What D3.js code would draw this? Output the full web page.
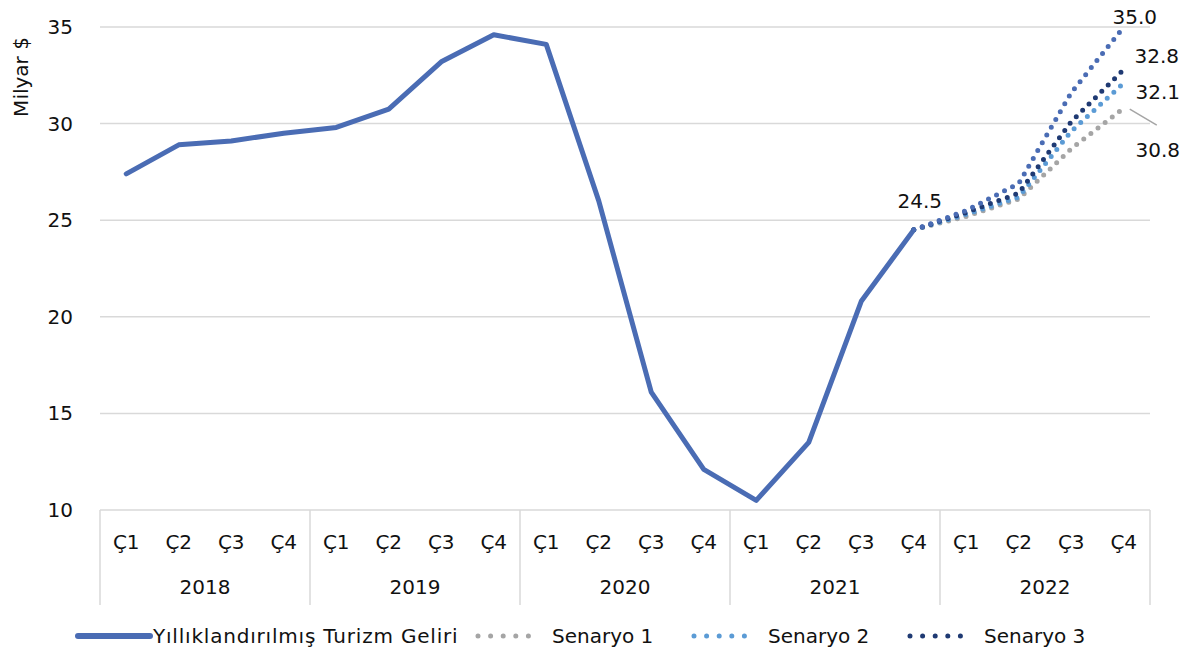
<!DOCTYPE html>
<html>
<head>
<meta charset="utf-8">
<script src="https://cdn.jsdelivr.net/npm/d3@7"></script>
<style>
  body { margin: 0; background: #fff; }
  text { font-family: "DejaVu Sans", sans-serif; fill: #111; }
</style>
</head>
<body>
<svg id="chart"></svg>
<script>
// data
const years = ['2018', '2019', '2020', '2021', '2022'];
const quarters = ['Ç1', 'Ç2', 'Ç3', 'Ç4'];
const revenue = [27.4, 28.9, 29.1, 29.5, 29.8, 30.75, 33.2, 34.6, 34.1, 26.0, 16.1, 12.1, 10.5, 13.5, 20.8, 24.5];
// scenarios run from 2021 Ç4 to 2022 Ç4
const scenario1 = [24.5, 25.2, 26.1, 28.7, 30.8];
const scenario2 = [24.5, 25.3, 26.2, 29.6, 32.1];
const scenario3 = [24.5, 25.4, 26.4, 30.1, 32.8];
const scenarioTop = [24.5, 25.5, 26.9, 31.6, 35.0];
const yTicks = [10, 15, 20, 25, 30, 35];

const config = {
  width: 1180, height: 650,
  margin: {top: 27, right: 30, bottom: 140, left: 100},
  fontSize: '20px'
};
const colors = {
  main: '#4a6cb4', s1: '#a5a5a5', s2: '#5b9bd5', s3: '#1f3a73', grid: '#d9d9d9'
};

const svg = d3.select('#chart')
    .attr('width', config.width)
    .attr('height', config.height);

const innerW = config.width - config.margin.left - config.margin.right;
const innerH = config.height - config.margin.top - config.margin.bottom;

const chart = svg.append('g')
    .attr('transform', `translate(${config.margin.left},${config.margin.top})`);

// one band per quarter
const keys = [];
years.forEach(y => quarters.forEach(q => keys.push(y + '-' + q)));

const xScale = d3.scaleBand().domain(keys).range([0, innerW]);
const yScale = d3.scaleLinear().domain([10, 35]).range([innerH, 0]);
const xc = k => xScale(k) + xScale.bandwidth() / 2;

// gridlines
chart.selectAll('.grid')
    .data(yTicks.filter(d => d > 10))
  .join('line')
    .attr('x1', 0).attr('x2', innerW)
    .attr('y1', d => yScale(d)).attr('y2', d => yScale(d))
    .attr('stroke', colors.grid).attr('stroke-width', 1.5);

// y labels
const yAxis = d3.axisLeft(yScale).tickValues(yTicks).tickSize(0).tickPadding(27);
const yAxisG = chart.append('g').call(yAxis);
yAxisG.select('.domain').remove();
yAxisG.selectAll('text').style('font-size', config.fontSize).attr('fill', '#111')
    .style('font-family', '"DejaVu Sans", sans-serif');

svg.append('text')
    .attr('transform', `translate(28,77) rotate(-90)`)
    .attr('text-anchor', 'middle')
    .style('font-size', config.fontSize)
    .text('Milyar $');

// x axis: quarter labels + year groups
const xAxisG = chart.append('g').attr('transform', `translate(0,${innerH})`);
xAxisG.append('line')
    .attr('x1', 0).attr('x2', innerW).attr('y1', 0).attr('y2', 0)
    .attr('stroke', colors.grid).attr('stroke-width', 1.5);
xAxisG.selectAll('.q')
    .data(keys)
  .join('text')
    .attr('x', d => xc(d))
    .attr('y', 39)
    .attr('text-anchor', 'middle')
    .style('font-size', config.fontSize)
    .text(d => d.split('-')[1]);
const yearW = xScale.bandwidth() * 4;
xAxisG.selectAll('.sep')
    .data(d3.range(years.length + 1))
  .join('line')
    .attr('x1', d => d * yearW).attr('x2', d => d * yearW)
    .attr('y1', 0).attr('y2', 95)
    .attr('stroke', colors.grid).attr('stroke-width', 1.5);
xAxisG.selectAll('.yr')
    .data(years)
  .join('text')
    .attr('x', (d, i) => i * yearW + yearW / 2)
    .attr('y', 84)
    .attr('text-anchor', 'middle')
    .style('font-size', config.fontSize)
    .text(d => d);

// lines
const line = d3.line().x(d => xc(d.k)).y(d => yScale(d.v));
const mainData = revenue.map((v, i) => ({k: keys[i], v}));
const scenKeys = keys.slice(15);
const toPts = arr => arr.map((v, i) => ({k: scenKeys[i], v}));

chart.append('path')
    .datum(mainData)
    .attr('d', line)
    .attr('fill', 'none')
    .attr('stroke', colors.main)
    .attr('stroke-width', 5)
    .attr('stroke-linejoin', 'round')
    .attr('stroke-linecap', 'round');

const scenarios = [
  {data: scenario1, color: colors.s1},
  {data: scenario2, color: colors.s2},
  {data: scenario3, color: colors.s3},
  {data: scenarioTop, color: colors.main}
];
chart.selectAll('.scen')
    .data(scenarios)
  .join('path')
    .attr('d', d => line(toPts(d.data)))
    .attr('fill', 'none')
    .attr('stroke', d => d.color)
    .attr('stroke-width', 5)
    .attr('stroke-linecap', 'round')
    .attr('stroke-dasharray', '0 9');

// value labels
const lastK = keys[keys.length - 1];
const ex = xc(lastK);
const labels = [
  {t: '24.5', x: xc(keys[15]) + 6, y: yScale(24.5) - 22},
  {t: '35.0', x: ex + 11, y: yScale(35.0) - 3},
  {t: '32.8', x: ex + 33, y: yScale(32.8) - 7},
  {t: '32.1', x: ex + 34, y: yScale(32.1) + 16},
  {t: '30.8', x: ex + 34, y: yScale(30.8) + 49}
];
chart.selectAll('.lbl')
    .data(labels)
  .join('text')
    .attr('x', d => d.x).attr('y', d => d.y)
    .attr('text-anchor', 'middle')
    .style('font-size', config.fontSize)
    .text(d => d.t);
chart.append('line')
    .attr('x1', ex + 6).attr('y1', yScale(30.8) + 1)
    .attr('x2', ex + 33).attr('y2', yScale(30.8) + 17)
    .attr('stroke', colors.s1).attr('stroke-width', 1.5);

// legend
const legend = svg.append('g').attr('transform', 'translate(0,636)');
const legendItems = [
  {label: 'Yıllıklandırılmış Turizm Geliri', color: colors.main, x: 78, solid: true, ls: 0.8},
  {label: 'Senaryo 1', color: colors.s1, x: 478, ls: 0},
  {label: 'Senaryo 2', color: colors.s2, x: 694, ls: 0},
  {label: 'Senaryo 3', color: colors.s3, x: 910, ls: 0}
];
legendItems.forEach(d => {
  legend.append('line')
      .attr('x1', d.x).attr('x2', d.solid ? d.x + 72 : d.x + 63)
      .attr('y1', 0).attr('y2', 0)
      .attr('stroke', d.color)
      .attr('stroke-width', d.solid ? 6 : 5)
      .attr('stroke-linecap', 'round')
      .attr('stroke-dasharray', d.solid ? null : '0 12.6');
  legend.append('text')
      .attr('x', d.solid ? d.x + 75 : d.x + 74)
      .attr('y', 7)
      .style('font-size', config.fontSize)
      .style('letter-spacing', d.ls + 'px')
      .text(d.label);
});
</script>
</body>
</html>
